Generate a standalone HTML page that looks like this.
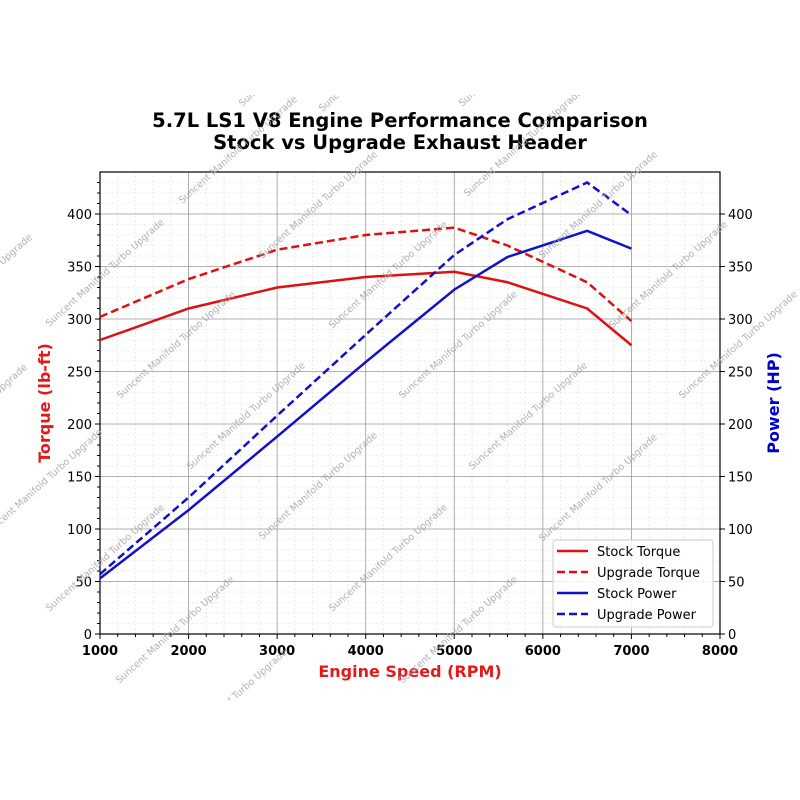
<!DOCTYPE html>
<html><head><meta charset="utf-8"><style>body{margin:0;background:#fff}svg{display:block}text{font-family:"DejaVu Sans","Liberation Sans",sans-serif}</style></head>
<body>
<svg id="s" width="800" height="800" xmlns="http://www.w3.org/2000/svg">
<rect width="800" height="800" fill="#fff"/>
<g id="grid"></g>
<rect x="100" y="172" width="620" height="462" fill="none" stroke="#000" stroke-width="1.2"/>
<g id="ticks"></g>
<g id="series" fill="none" stroke-width="2.5"></g>
<text x="400" y="127" text-anchor="middle" font-size="19.5" font-weight="bold">5.7L LS1 V8 Engine Performance Comparison</text>
<text x="400" y="149" text-anchor="middle" font-size="19.5" font-weight="bold">Stock vs Upgrade Exhaust Header</text>
<text x="410" y="677" text-anchor="middle" font-size="16" font-weight="bold" fill="#e31a1c">Engine Speed (RPM)</text>
<text transform="translate(50,403) rotate(-90)" text-anchor="middle" font-size="16" font-weight="bold" fill="#e31a1c">Torque (lb-ft)</text>
<text transform="translate(779,403) rotate(-90)" text-anchor="middle" font-size="16" font-weight="bold" fill="#0000cc">Power (HP)</text>
<g>
<rect x="553" y="540" width="160" height="87" rx="3" fill="#fff" fill-opacity="0.85" stroke="#ccc"/>
<line x1="557" y1="551" x2="588" y2="551" stroke="#dd1111" stroke-width="2.5"/>
<line x1="557" y1="572" x2="588" y2="572" stroke="#dd1111" stroke-width="2.5" stroke-dasharray="8,4"/>
<line x1="557" y1="593" x2="588" y2="593" stroke="#1111cc" stroke-width="2.5"/>
<line x1="557" y1="614" x2="588" y2="614" stroke="#1111cc" stroke-width="2.5" stroke-dasharray="8,4"/>
<text x="597" y="556" font-size="13">Stock Torque</text>
<text x="597" y="577" font-size="13">Upgrade Torque</text>
<text x="597" y="598" font-size="13">Stock Power</text>
<text x="597" y="619" font-size="13">Upgrade Power</text>
</g>
<g id="wm"></g>
</svg>
<script>
const NS="http://www.w3.org/2000/svg";
function el(p,t,a,txt){const e=document.createElementNS(NS,t);for(const k in a)e.setAttribute(k,a[k]);if(txt!=null)e.textContent=txt;p.appendChild(e);return e;}
const X=r=>100+(r-1000)*620/7000, Y=v=>634-v*1.05;
const g=document.getElementById('grid'),tk=document.getElementById('ticks');
for(let r=1200;r<8000;r+=200){if(r%1000)el(g,'line',{x1:X(r),x2:X(r),y1:172,y2:634,stroke:'#ddd','stroke-width':0.6,'stroke-dasharray':'2,2'});}
for(let v=10;v<440;v+=10){if(v%50)el(g,'line',{x1:100,x2:720,y1:Y(v),y2:Y(v),stroke:'#ddd','stroke-width':0.6,'stroke-dasharray':'2,2'});}
for(let r=2000;r<8000;r+=1000)el(g,'line',{x1:X(r),x2:X(r),y1:172,y2:634,stroke:'#999','stroke-width':0.8});
for(let v=50;v<440;v+=50)el(g,'line',{x1:100,x2:720,y1:Y(v),y2:Y(v),stroke:'#999','stroke-width':0.8});
for(let r=1000;r<=8000;r+=1000){el(tk,'line',{x1:X(r),x2:X(r),y1:634,y2:639,stroke:'#000'});el(tk,'text',{x:X(r),y:655,'text-anchor':'middle','font-size':13,'font-weight':'bold'},r);}
for(let r=1200;r<8000;r+=200){if(r%1000)el(tk,'line',{x1:X(r),x2:X(r),y1:634,y2:637,stroke:'#000'});}
for(let v=0;v<=400;v+=50){el(tk,'line',{x1:95,x2:100,y1:Y(v),y2:Y(v),stroke:'#000'});el(tk,'text',{x:92,y:Y(v)+5,'text-anchor':'end','font-size':13},v);
el(tk,'line',{x1:720,x2:725,y1:Y(v),y2:Y(v),stroke:'#000'});el(tk,'text',{x:728,y:Y(v)+5,'font-size':13},v);}
for(let v=10;v<440;v+=10){if(v%50)el(tk,'line',{x1:97,x2:100,y1:Y(v),y2:Y(v),stroke:'#000'});}
const rp=[1000,2000,3000,4000,5000,5600,6500,7000];
const S=[[280,310,330,340,345,335,310,275,'#dd1111',0],[302,338,366,380,387,370,335,298,'#dd1111',1],[53,118,188,259,328,359,384,367,'#1111cc',0],[57,130,208,285,361,395,430,399,'#1111cc',1]];
const sg=document.getElementById('series');
S.forEach(s=>{const pts=rp.map((r,i)=>X(r)+','+Y(s[i])).join(' ');const a={points:pts,stroke:s[8],'stroke-width':2.5,fill:'none'};if(s[9])a['stroke-dasharray']='8,4';el(sg,'polyline',a);});
const wm=document.getElementById('wm');
const cl=el(wm,'clipPath',{id:'c'});el(cl,'rect',{x:0,y:95,width:800,height:605});
const wg=el(wm,'g',{'clip-path':'url(#c)'});
const C=[[240,152],[107,275],[320,207],[178,347],[390,277],[248,418],[460,347],[525,145],[600,207],[670,277],[740,347],[530,418],[600,490],[320,488],[390,560],[460,632],[107,560],[177,632],[45,485],[-30,420],[230,705],[300,55],[380,60],[520,55],[-25,290]];
C.forEach(c=>el(wg,'text',{x:c[0],y:c[1],transform:`rotate(-42 ${c[0]} ${c[1]})`,'text-anchor':'middle','font-size':9.5,fill:'#aaa','fill-opacity':0.9},'Suncent Manifold Turbo Upgrade'));
</script>
</body></html>
